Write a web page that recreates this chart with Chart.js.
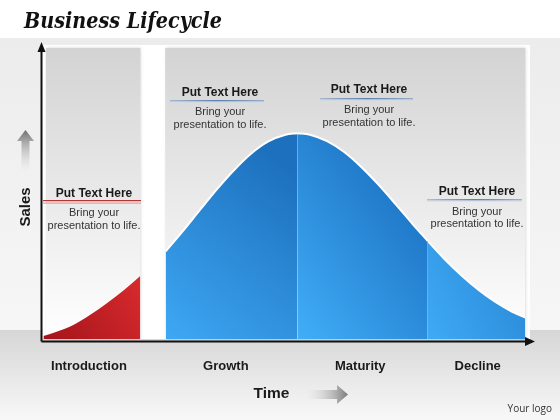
<!DOCTYPE html>
<html>
<head>
<meta charset="utf-8">
<script src="https://cdn.jsdelivr.net/npm/chart.js@4"></script>
<style>
  html, body { margin: 0; padding: 0; background: #ffffff; }
  #wrap { width: 560px; height: 420px; }
</style>
</head>
<body>
<div id="wrap"><canvas id="lifecycle" width="560" height="420"></canvas></div>
<script>
// stage names shown under the time axis and where they sit on it
const stageNames = ['Introduction', 'Growth', 'Maturity', 'Decline'];
const stageTicks = [9.8, 37.8, 65.3, 89.3];

// sales curve, one piece per stage (time 0-100, sales 0-100)
const introTime = [0.5, 3.2, 6.6, 10, 13.4, 16.8, 20.3];
const introSales = [1, 2.5, 4.8, 8.2, 12.1, 16.4, 21.4];

const growthTime = [25.5, 29, 32.5, 36, 39.5, 43, 46.5, 50, 52.4];
const growthSales = [29.8, 36.7, 43.9, 51.0, 57.5, 63.1, 67.2, 69.5, 70];

const maturityTime = [52.4, 55, 58.5, 62, 65.5, 69, 72.5, 76, 79.1];
const maturitySales = [70, 69.5, 67.3, 63.6, 58.5, 52.5, 45.9, 39.1, 33.3];

const declineTime = [79.1, 82.5, 86, 89.5, 93, 96, 99];
const declineSales = [33.3, 27.2, 21.6, 16.7, 12.5, 9.6, 7.3];

const noteHeading = 'Put Text Here';
const noteBody = ['Bring your', 'presentation to life.'];

function toPoints(xs, ys) {
    return xs.map((x, i) => ({ x: x, y: ys[i] }));
}

// gradient running from the start of a piece (at the base) to its end (at part of its height)
function pieceGradient(xs, ys, c0, c1, lift) {
    return (context) => {
        const chart = context.chart;
        const sx = chart.scales.x, sy = chart.scales.y;
        if (!chart.chartArea || !sx || !sy) return c0;
        const x0 = sx.getPixelForValue(xs[0]);
        const x1 = sx.getPixelForValue(xs[xs.length - 1]);
        const y0 = sy.getPixelForValue(0);
        const y1 = sy.getPixelForValue(Math.max(...ys) * lift);
        const g = chart.ctx.createLinearGradient(x0, y0, x1, y1);
        g.addColorStop(0, c0);
        g.addColorStop(1, c1);
        return g;
    };
}

// notes placed over the panels
const notes = [
    { cx: 94, head: 194, rule: 200, from: 43, to: 141, red: true, b1: 213, b2: 226 },
    { cx: 220, head: 93, rule: 100, from: 170, to: 264, b1: 112, b2: 125 },
    { cx: 369, head: 90, rule: 98, from: 320, to: 413, b1: 110, b2: 123 },
    { cx: 477, head: 192, rule: 199, from: 427, to: 522, b1: 212, b2: 224 }
];

const backdrop = {
    id: 'backdrop',
    beforeDraw(chart) {
        const ctx = chart.ctx;
        const area = chart.chartArea;
        ctx.save();
        // page
        ctx.fillStyle = '#ffffff';
        ctx.fillRect(0, 0, 560, 420);
        let g = ctx.createLinearGradient(0, 38, 0, 330);
        g.addColorStop(0, '#ececec');
        g.addColorStop(1, '#f6f6f6');
        ctx.fillStyle = g;
        ctx.fillRect(0, 38, 560, 292);
        g = ctx.createLinearGradient(0, 330, 0, 420);
        g.addColorStop(0, '#d6d6d6');
        g.addColorStop(1, '#f8f8f8');
        ctx.fillStyle = g;
        ctx.fillRect(0, 330, 560, 90);

        // white strip behind the panels
        ctx.fillStyle = '#ffffff';
        ctx.fillRect(area.left + 1, 45, 488, area.bottom - 45);

        // two grey panels: introduction | growth..decline
        const sx = chart.scales.x;
        const spans = [[introTime[0] + 0.5, introTime[introTime.length - 1]],
                       [growthTime[0] - 0.1, declineTime[declineTime.length - 1]]];
        spans.forEach(sp => {
            const l = sx.getPixelForValue(sp[0]);
            const r = sx.getPixelForValue(sp[1]);
            const pg = ctx.createLinearGradient(0, 48, 0, area.bottom);
            pg.addColorStop(0, '#d3d3d3');
            pg.addColorStop(0.5, '#e9e9e9');
            pg.addColorStop(1, '#ffffff');
            ctx.shadowColor = 'rgba(0,0,0,0.18)';
            ctx.shadowBlur = 3;
            ctx.shadowOffsetX = 1;
            ctx.fillStyle = pg;
            ctx.fillRect(l, 48, r - l, area.bottom - 48);
        });
        ctx.restore();
    },
    afterDatasetsDraw(chart) {
        const ctx = chart.ctx;
        const area = chart.chartArea;
        ctx.save();

        // axes with arrow heads
        const ax = area.left + 0.5, ay = area.bottom + 2.5;
        ctx.strokeStyle = '#111111';
        ctx.fillStyle = '#111111';
        ctx.lineWidth = 2;
        ctx.beginPath();
        ctx.moveTo(ax, ay);
        ctx.lineTo(ax, 50);
        ctx.moveTo(ax, ay);
        ctx.lineTo(527, ay);
        ctx.stroke();
        ctx.beginPath();
        ctx.moveTo(ax, 42);
        ctx.lineTo(ax - 4, 52);
        ctx.lineTo(ax + 4, 52);
        ctx.closePath();
        ctx.fill();
        ctx.beginPath();
        ctx.moveTo(535, ay);
        ctx.lineTo(525, ay - 4.5);
        ctx.lineTo(525, ay + 4.5);
        ctx.closePath();
        ctx.fill();

        // notes
        ctx.textAlign = 'center';
        ctx.textBaseline = 'middle';
        notes.forEach(n => {
            if (n.red) {
                ctx.fillStyle = '#b83333';
                ctx.fillRect(n.from, n.rule, n.to - n.from, 1.2);
                ctx.fillStyle = '#e3a0a0';
                ctx.fillRect(n.from, n.rule + 2.5, n.to - n.from, 1.2);
            } else {
                const lg = ctx.createLinearGradient(n.from, 0, n.to, 0);
                lg.addColorStop(0, 'rgba(90,125,170,0.4)');
                lg.addColorStop(0.5, '#5d80ad');
                lg.addColorStop(1, 'rgba(90,125,170,0.5)');
                ctx.fillStyle = lg;
                ctx.fillRect(n.from, n.rule, n.to - n.from, 1.5);
                ctx.fillStyle = 'rgba(200,215,232,0.8)';
                ctx.fillRect(n.from, n.rule + 1.5, n.to - n.from, 1);
            }
            ctx.fillStyle = '#1a1a1a';
            ctx.font = 'bold 12px "Liberation Sans", Arial, sans-serif';
            ctx.fillText(noteHeading, n.cx, n.head);
            ctx.fillStyle = '#333333';
            ctx.font = '11px "Liberation Sans", Arial, sans-serif';
            ctx.fillText(noteBody[0], n.cx, n.b1);
            ctx.fillText(noteBody[1], n.cx, n.b2);
        });

        // Sales label with fading arrow
        ctx.save();
        ctx.translate(26, 207);
        ctx.rotate(-Math.PI / 2);
        ctx.fillStyle = '#1a1a1a';
        ctx.font = 'bold 15px "Liberation Sans", Arial, sans-serif';
        ctx.fillText('Sales', 0, 0);
        ctx.restore();
        let g = ctx.createLinearGradient(0, 130, 0, 172);
        g.addColorStop(0, '#6e6e6e');
        g.addColorStop(1, 'rgba(240,240,240,0.2)');
        ctx.fillStyle = g;
        ctx.beginPath();
        ctx.moveTo(25.5, 130);
        ctx.lineTo(34, 141);
        ctx.lineTo(29.5, 141);
        ctx.lineTo(29.5, 172);
        ctx.lineTo(21.5, 172);
        ctx.lineTo(21.5, 141);
        ctx.lineTo(17, 141);
        ctx.closePath();
        ctx.fill();

        // Time label with fading arrow
        ctx.fillStyle = '#1a1a1a';
        ctx.font = 'bold 15.5px "Liberation Sans", Arial, sans-serif';
        ctx.fillText('Time', 271.5, 394);
        g = ctx.createLinearGradient(307, 0, 348, 0);
        g.addColorStop(0, 'rgba(235,235,235,0.2)');
        g.addColorStop(1, '#7a7a7a');
        ctx.fillStyle = g;
        ctx.beginPath();
        ctx.moveTo(307, 390);
        ctx.lineTo(337, 390);
        ctx.lineTo(337, 385);
        ctx.lineTo(348, 394.5);
        ctx.lineTo(337, 404);
        ctx.lineTo(337, 399);
        ctx.lineTo(307, 399);
        ctx.closePath();
        ctx.fill();

        // title
        ctx.textAlign = 'left';
        ctx.textBaseline = 'alphabetic';
        ctx.fillStyle = '#111111';
        ctx.font = 'bold italic 23px "DejaVu Serif", serif';
        const title = 'Business Lifecycle';
        const w = ctx.measureText(title).width;
        ctx.save();
        ctx.translate(24, 28);
        ctx.scale(198 / w, 1);
        ctx.fillText(title, 0, 0);
        ctx.restore();

        // logo placeholder
        ctx.fillStyle = '#333333';
        ctx.font = '10px "Open Sans", sans-serif';
        ctx.textAlign = 'right';
        ctx.textBaseline = 'middle';
        ctx.fillText('Your logo', 552, 409);

        ctx.restore();
    }
};

function initChart() {
    const ctx = document.getElementById('lifecycle').getContext('2d');
    new Chart(ctx, {
        type: 'line',
        data: {
            datasets: [
                {
                    label: 'Introduction',
                    data: toPoints(introTime, introSales),
                    fill: 'origin',
                    borderWidth: 0,
                    borderColor: 'rgba(0,0,0,0)',
                    backgroundColor: pieceGradient(introTime, introSales, '#a3151a', '#d92a2e', 1)
                },
                {
                    label: 'Growth',
                    data: toPoints(growthTime, growthSales),
                    fill: 'origin',
                    borderWidth: 2,
                    borderColor: '#ffffff',
                    backgroundColor: pieceGradient(growthTime, growthSales, '#3ea8f4', '#1d70bd', 0.8)
                },
                {
                    label: 'Maturity',
                    data: toPoints(maturityTime, maturitySales),
                    fill: 'origin',
                    borderWidth: 2,
                    borderColor: '#ffffff',
                    backgroundColor: pieceGradient(maturityTime, maturitySales, '#41aef8', '#2079c9', 0.5)
                },
                {
                    label: 'Decline',
                    data: toPoints(declineTime, declineSales),
                    fill: 'origin',
                    borderWidth: 2,
                    borderColor: '#ffffff',
                    backgroundColor: pieceGradient(declineTime, declineSales, '#3eaaf5', '#2c8bd9', 0.5)
                }
            ]
        },
        options: {
            responsive: false,
            devicePixelRatio: 1,
            animation: false,
            elements: {
                point: { radius: 0, hoverRadius: 0 },
                line: { cubicInterpolationMode: 'monotone' }
            },
            layout: { padding: { left: 41, right: 30, top: 45, bottom: 0 } },
            plugins: {
                legend: { display: false },
                title: { display: false },
                tooltip: { enabled: false }
            },
            scales: {
                x: {
                    type: 'linear',
                    min: 0,
                    max: 100,
                    grid: { display: false, drawTicks: false },
                    border: { display: false },
                    afterBuildTicks: s => { s.ticks = stageTicks.map(v => ({ value: v })); },
                    afterFit: s => { s.height = 81; },
                    ticks: {
                        autoSkip: false,
                        maxRotation: 0,
                        padding: 20,
                        color: '#1a1a1a',
                        font: { family: '"Liberation Sans", Arial, sans-serif', size: 13, weight: 'bold' },
                        callback: (v, i) => stageNames[i]
                    }
                },
                y: {
                    display: false,
                    min: 0,
                    max: 100
                }
            }
        },
        plugins: [backdrop]
    });
}

window.onload = initChart;
</script>
</body>
</html>
